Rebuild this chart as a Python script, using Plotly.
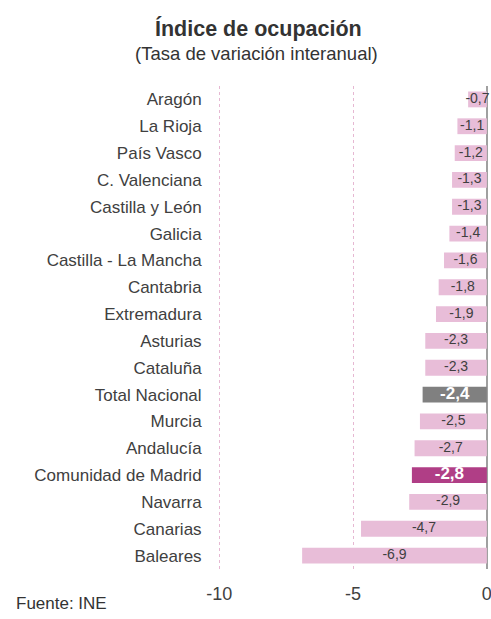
import plotly.graph_objects as go

regions = ["Aragón", "La Rioja", "País Vasco", "C. Valenciana", "Castilla y León",
           "Galicia", "Castilla - La Mancha", "Cantabria", "Extremadura", "Asturias",
           "Cataluña", "Total Nacional", "Murcia", "Andalucía", "Comunidad de Madrid",
           "Navarra", "Canarias", "Baleares"]
values = [-0.7, -1.1, -1.2, -1.3, -1.3, -1.4, -1.6, -1.8, -1.9, -2.3, -2.3, -2.4,
          -2.5, -2.7, -2.8, -2.9, -4.7, -6.9]
x_ticks = [-10, -5, 0]

PINK = "#E8BDD8"
MAGENTA = "#B03E86"
GRAY = "#808080"
TXT = "#404040"

colors = []
for r in regions:
    if r == "Comunidad de Madrid":
        colors.append(MAGENTA)
    elif r == "Total Nacional":
        colors.append(GRAY)
    else:
        colors.append(PINK)

labels = []
for r, v in zip(regions, values):
    s = f"{v:.1f}".replace(".", ",")
    if r in ("Comunidad de Madrid", "Total Nacional"):
        labels.append(f"<b>{s}</b>")
    else:
        labels.append(s)
label_colors = ["white" if r in ("Comunidad de Madrid", "Total Nacional") else TXT for r in regions]
label_sizes = [17 if r in ("Comunidad de Madrid", "Total Nacional") else 14 for r in regions]

W, H = 491, 619
XPAD = 0.08
SCALE = (487 - 219) / 10.0
PL = 219 - XPAD * SCALE
PR = 487 + XPAD * SCALE
PT, PB = 85.5, 569.5
PW, PHt = PR - PL, PB - PT

fig = go.Figure()
fig.add_trace(go.Bar(
    x=values, y=regions, orientation="h",
    marker=dict(color=colors, line=dict(width=0)),
    hoverinfo="skip",
))
fig.add_trace(go.Scatter(
    x=[v / 2 for v in values], y=regions, mode="text",
    text=labels,
    textfont=dict(color=label_colors, size=label_sizes, family="Liberation Sans, Arial, sans-serif"),
    textposition="middle center",
    hoverinfo="skip", cliponaxis=False,
))

fig.update_layout(
    width=W, height=H,
    margin=dict(l=PL, r=W - PR, t=PT, b=H - PB),
    paper_bgcolor="white", plot_bgcolor="white",
    showlegend=False,
    bargap=0.41,
    font=dict(family="Liberation Sans, Arial, sans-serif", color=TXT, size=17),
    xaxis=dict(
        range=[-10 - XPAD, 0 + XPAD], tickvals=x_ticks, ticktext=[str(t) for t in x_ticks],
        showgrid=True, gridcolor="#E6B8D2", griddash="dot", gridwidth=1,
        zeroline=True, zerolinecolor="#A0A0A0", zerolinewidth=2,
        showline=False, automargin=False, ticklabeloverflow="allow",
        ticks="outside", ticklen=8, tickcolor="rgba(0,0,0,0)",
        tickfont=dict(size=18, color=TXT),
        fixedrange=True,
    ),
    yaxis=dict(
        range=[len(regions) - 0.5, -0.5], showgrid=False, zeroline=False, showline=False,
        ticks="outside", ticklen=11, tickcolor="rgba(0,0,0,0)",
        tickfont=dict(size=17, color=TXT), automargin=False, fixedrange=True,
    ),
    annotations=[
        dict(text="<b>Índice de ocupación</b>", xref="paper", yref="paper",
             x=(258 - PL) / PW, y=1 + (PT - 28) / PHt, xanchor="center", yanchor="middle",
             showarrow=False, font=dict(size=21.5, color="#333333")),
        dict(text="(Tasa de variación interanual)", xref="paper", yref="paper",
             x=(256 - PL) / PW, y=1 + (PT - 53) / PHt, xanchor="center", yanchor="middle",
             showarrow=False, font=dict(size=18.5, color="#333333")),
        dict(text="Fuente: INE", xref="paper", yref="paper",
             x=(14 - PL) / PW, y=-(604 - PB) / PHt, xanchor="left", yanchor="middle",
             showarrow=False, font=dict(size=17, color="#333333")),
    ],
)

fig.write_html(
    "out.html",
    config={"displayModeBar": False, "staticPlot": True},
    post_script="document.documentElement.style.margin='0';document.documentElement.style.overflow='hidden';"
                "document.body.style.margin='0';document.body.style.overflow='hidden';",
)
